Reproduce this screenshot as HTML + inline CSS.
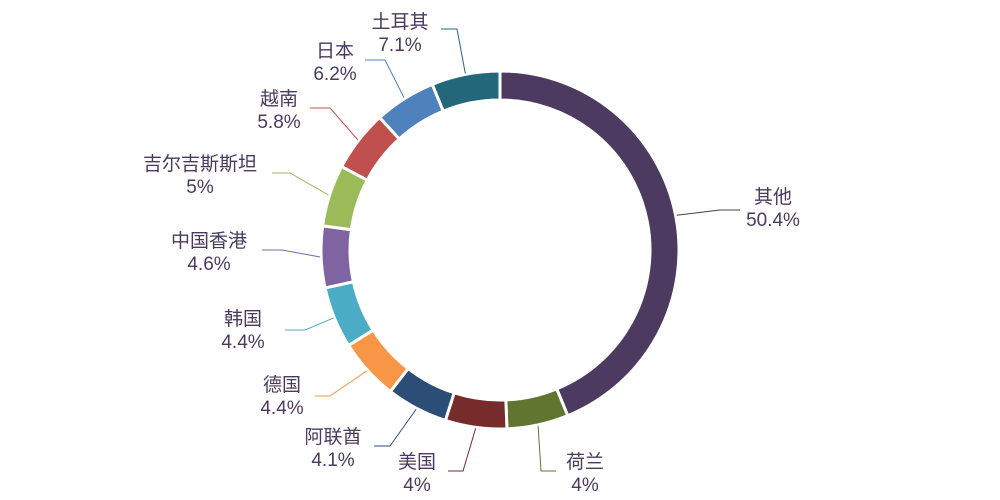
<!DOCTYPE html>
<html><head><meta charset="utf-8"><style>
html,body{margin:0;padding:0;background:#fff;width:1000px;height:500px;overflow:hidden}
text{font-family:"Liberation Sans","Noto Sans CJK SC",sans-serif;font-size:19px;fill:#4a3a5e}
</style></head><body>
<svg id="chart" width="1000" height="500" xmlns="http://www.w3.org/2000/svg"></svg>
<script>
const categories=["其他","荷兰","美国","阿联酋","德国","韩国","中国香港","吉尔吉斯斯坦","越南","日本","土耳其"];
const values=[50.4,4,4,4.1,4.4,4.4,4.6,5,5.8,6.2,7.1];
const valueLabels=["50.4%","4%","4%","4.1%","4.4%","4.4%","4.6%","5%","5.8%","6.2%","7.1%"];
const colors=["#4d3a60","#5f7530","#772b2b","#2c4d75","#f79646","#4bacc6","#8064a2","#9bbb59","#c0504d","#4f81bd","#23687a"];
// label layout (pixels): elbow, line end, text center x, first baseline
const labelLayout=[
 [720,210,740,210,773,203],[541,471,556,471,585,468],[463,471,448,471,417,468],
 [390,446,374,446,333,443],[330,396,315,396,282,391],[305,330,285,330,243,325],
 [282,250,262,250,209,247],[290,173,272,173,200,170],[330,108,310,108,279,105],
 [385,60,365,60,335,57],[457,29,441,29,400,28]];
const cx=500,cy=250,R=179,r=150,minAngle=20;
const svg=document.getElementById('chart');
const NS='http://www.w3.org/2000/svg';
// angles with minAngle logic
const total=values.reduce((a,b)=>a+b,0);
let fixed=values.map(()=>false),angles;
for(let it=0;it<20;it++){
  const nf=fixed.filter(f=>f).length;
  const rest=360-nf*minAngle;
  const sumFree=values.reduce((s,v,i)=>s+(fixed[i]?0:v),0);
  angles=values.map((v,i)=>fixed[i]?minAngle:v/sumFree*rest);
  let changed=false;
  angles.forEach((a,i)=>{if(!fixed[i]&&a<minAngle){fixed[i]=true;changed=true;}});
  if(!changed)break;
}
function pt(rad,deg){const t=deg*Math.PI/180;return [cx+rad*Math.sin(t),cy-rad*Math.cos(t)];}
let start=0;
angles.forEach((a,i)=>{
  const end=start+a;
  const [x1,y1]=pt(R,start),[x2,y2]=pt(R,end),[x3,y3]=pt(r,end),[x4,y4]=pt(r,start);
  const large=a>180?1:0;
  const p=document.createElementNS(NS,'path');
  p.setAttribute('d',`M${x1},${y1}A${R},${R} 0 ${large} 1 ${x2},${y2}L${x3},${y3}A${r},${r} 0 ${large} 0 ${x4},${y4}Z`);
  p.setAttribute('fill',colors[i]);p.setAttribute('stroke','#fff');p.setAttribute('stroke-width','3');
  
  
  svg.appendChild(p);
  const mid=start+a/2;const [sx,sy]=pt(R+1,mid);
  const L=labelLayout[i];
  const pl=document.createElementNS(NS,'polyline');
  pl.setAttribute('points',`${sx},${sy} ${L[0]},${L[1]} ${L[2]},${L[3]}`);
  pl.setAttribute('fill','none');pl.setAttribute('stroke',colors[i]);pl.setAttribute('stroke-width','1');
  
  
  svg.appendChild(pl);
  const t=document.createElementNS(NS,'text');
  t.setAttribute('x',L[4]);t.setAttribute('y',L[5]);t.setAttribute('text-anchor','middle');
  
  
  const s1=document.createElementNS(NS,'tspan');s1.setAttribute('x',L[4]);s1.textContent=categories[i];
  const s2=document.createElementNS(NS,'tspan');s2.setAttribute('x',L[4]);s2.setAttribute('dy','23');s2.textContent=valueLabels[i];
  t.appendChild(s1);t.appendChild(s2);svg.appendChild(t);
  start=end;
});
</script>
</body></html>
